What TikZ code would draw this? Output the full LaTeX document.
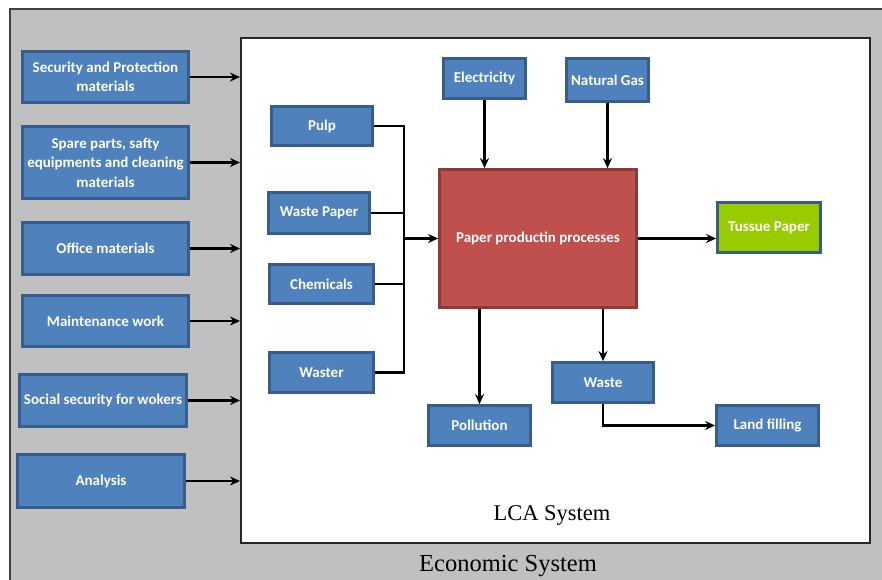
\documentclass[tikz,border=0pt]{standalone}
\usepackage{fontspec}
\setmainfont{Liberation Serif}
\newfontfamily\boxfont{Carlito}
\usetikzlibrary{arrows.meta}
\definecolor{bgrey}{HTML}{C0C0C0}
\definecolor{boxfill}{HTML}{4F81BD}
\definecolor{boxline}{HTML}{385D8A}
\definecolor{redfill}{HTML}{C0504D}
\definecolor{redline}{HTML}{8C3A38}
\definecolor{greenfill}{HTML}{99CC00}
\definecolor{frameline}{HTML}{404040}
\tikzset{
  bbox/.style={draw=boxline, fill=boxfill, line width=2.8pt, text=white,
    font=\boxfont\bfseries\fontsize{15}{19.5}\selectfont, align=center, inner sep=1pt},
  procbox/.style={bbox, draw=redline, fill=redfill},
  prodbox/.style={bbox, fill=greenfill},
  arr/.style={line width=2.3pt, -{Stealth[length=10pt,width=9pt]}},
  conn/.style={line width=2.3pt},
}
\begin{document}
\begin{tikzpicture}[x=1pt,y=-1pt]
\useasboundingbox (0,0) rectangle (882,579);
\fill[white] (0,0) rectangle (882,579);
\fill[bgrey] (10,9) rectangle (890,590);
\draw[frameline, line width=1.6pt] (10,590) -- (10,9) -- (890,9);
\node[draw=black!85, fill=white, line width=1.5pt, inner sep=0, minimum width=629pt, minimum height=505pt, anchor=north west] (lca) at (240,37) {};
\node[font=\fontsize{22.5}{26}\selectfont] (lcal) at (552,515) {LCA System};
\node[font=\fontsize{24.5}{28}\selectfont] (ecol) at (508,566) {Economic System};

% left economic inputs
\node[bbox, minimum width=166pt, minimum height=51pt] (sec) at (105.5,77) {Security and Protection\\materials};
\node[bbox, minimum width=166pt, minimum height=72pt] (spare) at (105.5,162.5) {Spare parts, safty\\equipments and cleaning\\materials};
\node[bbox, minimum width=166pt, minimum height=52pt] (office) at (105.5,248.5) {Office materials};
\node[bbox, minimum width=166pt, minimum height=51pt] (maint) at (105.5,321) {Maintenance work};
\node[bbox, minimum width=167pt, minimum height=52pt] (social) at (103,400.5) {Social security for wokers};
\node[bbox, minimum width=167pt, minimum height=53pt] (anal) at (101,481) {Analysis};

\foreach \n in {sec,spare,office,maint,social,anal}
  \draw[arr] (\n.east) -- (\n.east -| lca.west);

% inner LCA
\node[bbox, minimum width=101pt, minimum height=39pt] (pulp) at (322,126) {Pulp};
\node[bbox, minimum width=101pt, minimum height=41pt] (wpaper) at (319,213) {Waste Paper};
\node[bbox, minimum width=104pt, minimum height=39pt] (chem) at (321.5,284) {Chemicals};
\node[bbox, minimum width=104pt, minimum height=40pt] (waster) at (321.5,372.5) {Waster};
\node[bbox, minimum width=82pt, minimum height=40pt] (elec) at (484.5,78.5) {Electricity};
\node[bbox, minimum width=82pt, minimum height=43pt] (gas) at (607.5,80) {Natural Gas};
\node[procbox, minimum width=197pt, minimum height=138pt] (proc) at (538,238.5) {Paper productin processes};
\node[prodbox, minimum width=103pt, minimum height=50pt] (tissue) at (769,227.5) {Tussue Paper};
\node[bbox, minimum width=102pt, minimum height=40pt] (poll) at (479.5,425.5) {Pollution};
\node[bbox, minimum width=101pt, minimum height=40pt] (waste) at (603,382.5) {Waste};
\node[bbox, minimum width=102pt, minimum height=40pt] (land) at (767.5,425.5) {Land filling};

\coordinate (bus) at (404,238.5);
\draw[conn] (pulp.east) -- (pulp.east -| bus) -- (waster.east -| bus) -- (waster.east);
\draw[conn] (wpaper.east) -- (wpaper.east -| bus);
\draw[conn] (chem.east) -- (chem.east -| bus);
\draw[arr] (bus) -- (proc.west);
\draw[arr] (elec.south) -- (elec.south |- proc.north);
\draw[arr] (gas.south) -- (gas.south |- proc.north);
\draw[arr] (proc.east) -- (proc.east -| tissue.west);
\draw[arr] (poll.north |- proc.south) -- (poll.north);
\draw[arr] (waste.north |- proc.south) -- (waste.north);
\draw[arr] (waste.south) |- (land.west);
\end{tikzpicture}
\end{document}
